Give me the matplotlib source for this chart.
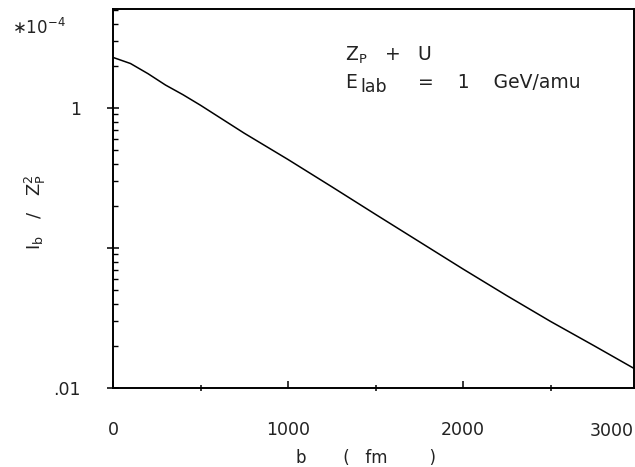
import numpy as np
import matplotlib
matplotlib.use("Agg")
import matplotlib.pyplot as plt
from matplotlib.ticker import LogLocator, MultipleLocator, NullFormatter

# impact parameter b (fm) and I_b / Z_P^2 (units of 1e-4)
b_fm   = [0, 100, 200, 300, 400, 500, 750, 1000, 1250, 1500, 1750, 2000, 2250,
          2500, 2750, 2977]
ib_zp2 = [2.30, 2.08, 1.76, 1.46, 1.245, 1.047, 0.661, 0.429, 0.274, 0.174,
          0.111, 0.0708, 0.0457, 0.0299, 0.0200, 0.0138]

x_ticks  = [0, 1000, 2000]
x_labels = ["0", "1000", "2000"]
y_ticks  = [0.01, 0.1, 1]
y_labels = [".01", "", "1"]

plt.rcParams["font.family"] = ["DejaVu Sans"]
plt.rcParams["mathtext.fontset"] = "dejavusans"
INK = "#222222"

fig = plt.figure(figsize=(6.35, 4.67), dpi=100)
ax = fig.add_axes([113/635, 79/467, 521/635, 379/467])

ax.plot(b_fm, ib_zp2, color="black", lw=1.1)

ax.set_yscale("log")
ax.set_xlim(0, 2977)
ax.set_ylim(0.01, 5.1)

# ── ticks ────────────────────────────────────────────────────────────────────
ax.set_xticks(x_ticks)
ax.set_xticklabels(x_labels)
ax.xaxis.set_minor_locator(MultipleLocator(500))
ax.set_yticks(y_ticks)
ax.set_yticklabels(y_labels)
ax.yaxis.set_minor_locator(LogLocator(base=10, subs=np.arange(2, 10)))
ax.yaxis.set_minor_formatter(NullFormatter())

ax.tick_params(axis="x", which="major", direction="in", length=5, width=1.1,
               pad=24, labelsize=12.5, labelcolor=INK)
ax.tick_params(axis="x", which="minor", direction="inout", length=4, width=1.1)
ax.tick_params(axis="y", which="major", direction="inout", length=8.5, width=1.1,
               pad=19, labelsize=12.5, labelcolor=INK)
ax.tick_params(axis="y", which="minor", direction="in", length=3.5, width=1.0)
for s in ax.spines.values():
    s.set_linewidth(1.4)

# 3000 label would fall off the edge, plotter put it flush right
ax.text(1.0, -34/379, "3000", transform=ax.transAxes, ha="right", va="top",
        fontsize=12.5, color=INK)

# ── labels ───────────────────────────────────────────────────────────────────
fig.text(12/635, 1 - 28/467, r"$\ast$10$^{-4}$", fontsize=12, va="center",
         color=INK)
fig.text(35/635, 1 - 212/467, r"I$_\mathrm{b}$   /   Z$_\mathrm{P}^2$", rotation=90,
         fontsize=13, ha="center", va="center", color=INK)
fig.text(366/635, 1 - 458/467, "b" + " " * 7 + "(" + " " * 3 + "fm" + " " * 8 + ")",
         fontsize=12, ha="center", va="center", color=INK)

# annotation, subscripts nearly full size as on the plotter
ax.text(0.445, 0.879, r"Z$_\mathrm{P}$   +   U", transform=ax.transAxes,
        fontsize=13.5, va="center", color=INK)
ax.text(0.445, 0.807, "E", transform=ax.transAxes,
        fontsize=13.5, va="center", color=INK)
ax.text((360 - 113)/521, 0.807 - 5/379, "lab", transform=ax.transAxes,
        fontsize=12.5, va="center", color=INK)
ax.text((418 - 113)/521, 0.807, "=    1    GeV/amu", transform=ax.transAxes,
        fontsize=13.5, va="center", color=INK)

fig.savefig("out.png", dpi=100)
